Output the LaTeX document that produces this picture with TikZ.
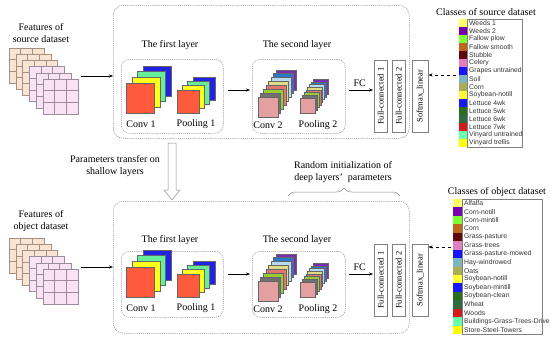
\documentclass[tikz,border=0pt]{standalone}
\usepackage{fontspec}
\setmainfont{Liberation Serif}
\newfontfamily\legfont{Liberation Sans}
\usetikzlibrary{arrows.meta,decorations.pathreplacing,calc}

\definecolor{sqred}{HTML}{FF5A3C}
\definecolor{sqyel}{HTML}{FFFF1A}
\definecolor{sqmint}{HTML}{66EE99}
\definecolor{sqblue}{HTML}{2222E6}
\definecolor{ppurple}{HTML}{7A2FB0}
\definecolor{pblue}{HTML}{2A78C8}
\definecolor{plblue}{HTML}{B4DCEE}
\definecolor{pyel}{HTML}{DCDC88}
\definecolor{psalmon}{HTML}{E07474}
\definecolor{pgreen}{HTML}{99CC33}
\definecolor{pgray}{HTML}{707070}
\definecolor{ppink}{HTML}{E4A0A0}
\definecolor{beige}{HTML}{F8E4D0}
\definecolor{beigeln}{HTML}{A89080}
\definecolor{lpink}{HTML}{F8E2F4}
\definecolor{lpinkln}{HTML}{9C8C9C}

\definecolor{c1}{HTML}{FFFF66}
\definecolor{c2}{HTML}{7B00B0}
\definecolor{c3}{HTML}{80FF33}
\definecolor{c4}{HTML}{C0651E}
\definecolor{c5}{HTML}{5C0A0A}
\definecolor{c6}{HTML}{E080C0}
\definecolor{c7}{HTML}{1414FF}
\definecolor{c8}{HTML}{80B4BC}
\definecolor{c9}{HTML}{ACAC55}
\definecolor{c10}{HTML}{FFFF33}
\definecolor{c11}{HTML}{1818FF}
\definecolor{c12}{HTML}{2D6B1E}
\definecolor{c13}{HTML}{2F6B40}
\definecolor{c14}{HTML}{D41A1A}
\definecolor{c15}{HTML}{66FFAA}
\definecolor{c16}{HTML}{FFFF00}

% stack of squares: x y w h dx dy n {colours back to front}
\newcommand{\sqstack}[8]{%
  \foreach \cc [count=\ii] in {#8}{%
    \pgfmathsetmacro\kk{#7-\ii+1}%
    \filldraw[fill=\cc, draw=black!60, line width=0.3pt]
      ({#1+\kk*#5},{#2-\kk*#6}) rectangle ++(#3,#4);
  }}

% feature grid stack at x y
\newcommand{\featstack}[2]{%
  \foreach \jj in {0,...,5}{%
    \ifnum\jj<3 \def\ff{beige}\def\ll{beigeln}\else\def\ff{lpink}\def\ll{lpinkln}\fi
    \pgfmathsetmacro\xx{#1+\jj*6.8}%
    \pgfmathsetmacro\yy{#2+\jj*6.2}%
    \filldraw[fill=\ff, draw=\ll, line width=0.5pt] (\xx,\yy) rectangle ++(35,35);
    \draw[\ll, line width=0.5pt] ({\xx+35/3},\yy) -- ++(0,35) ({\xx+70/3},\yy) -- ++(0,35)
      (\xx,{\yy+35/3}) -- ++(35,0) (\xx,{\yy+70/3}) -- ++(35,0);
  }}

% network block: suffix, vertical shift, title y, inner box top, inner box height
\newcommand{\netblock}[5]{%
  \begin{scope}[yshift=-#2pt]
    \node[dbox, rounded corners=8pt, minimum width=102pt, minimum height=#5pt, anchor=north west] (inA#1) at (121,#4) {};
    \node[dbox, rounded corners=8pt, minimum width=93pt, minimum height=#5pt, anchor=north west] (inB#1) at (252,#4) {};
    \node[lbl] (tA#1) at (170,#3) {The first layer};
    \node[lbl] (tB#1) at (297,#3) {The second layer};
    \sqstack{126}{83}{28}{30}{5.7}{5.7}{3}{sqblue,sqmint,sqyel,sqred}
    \sqstack{177}{90}{22}{23}{5.3}{4.4}{3}{sqblue,sqmint,sqyel,sqred}
    \sqstack{258}{97}{20}{20}{2.6}{3.9}{7}{ppurple,pblue,plblue,pyel,psalmon,pgreen,pgray,ppink}
    \sqstack{300}{98}{15}{15}{1.9}{2.7}{7}{ppurple,pblue,plblue,pyel,psalmon,pgreen,pgray,ppink}
    \node[lbl] (lA#1) at (141,124) {Conv 1};
    \node[lbl] (lB#1) at (196,124) {Pooling 1};
    \node[lbl] (lC#1) at (268,125) {Conv 2};
    \node[lbl] (lD#1) at (318,125) {Pooling 2};
    \node[fcbox, minimum width=13pt, minimum height=72pt, anchor=north west] (fcA#1) at (374,60) {};
    \node[fcbox, minimum width=13pt, minimum height=72pt, anchor=north west] (fcB#1) at (392,60) {};
    \node[fcbox, minimum width=16pt, minimum height=72pt, anchor=north west] (sm#1) at (412,60) {};
    \node[rot] at (fcA#1) {Full-connected 1};
    \node[rot] at (fcB#1) {Full-connected 2};
    \node[rot] at (sm#1) {Softmax\_linear};
    \coordinate (ay#1) at (0,90);
    \draw[arr, shorten <=4pt, shorten >=2pt] (inA#1.east |- ay#1) -- (inB#1.west |- ay#1);
    \draw[arr, shorten <=3pt, shorten >=1pt] (inB#1.east |- ay#1) -- (fcA#1.west |- ay#1)
      node[lbl, midway, above=3pt] {FC};
  \end{scope}}

\begin{document}
\begin{tikzpicture}[x=1pt,y=-1pt,
  lbl/.style={font=\fontsize{10}{12}\selectfont, inner sep=0},
  rot/.style={font=\fontsize{8.5}{10}\selectfont, inner sep=0, rotate=90},
  dbox/.style={draw=gray!85, dash pattern=on 1.2pt off 0.9pt, line width=0.5pt, rounded corners=10pt, inner sep=0},
  fcbox/.style={draw=gray, line width=0.5pt, inner sep=0},
  arr/.style={-{Stealth[length=4pt,width=3pt]}, line width=0.4pt},
  leg/.style={font=\legfont\fontsize{6.8}{7}\selectfont, text=black!80, inner sep=0, anchor=west},
]
\useasboundingbox (0,0) rectangle (550,341);

% outer boxes
\node[dbox, minimum width=296pt, minimum height=133pt, anchor=north west] (outA) at (113,5) {};
\node[dbox, minimum width=296pt, minimum height=132pt, anchor=north west] (outB) at (113,201) {};

% inputs
\node[lbl, align=center] (fA) at (41,33) {Features of\\source dataset};
\featstack{9}{48}
\coordinate (featA) at (81,76);
\draw[arr] (featA) -- (featA -| outA.west);

\node[lbl, align=center] (fB) at (41,221) {Features of\\object dataset};
\featstack{9}{238}
\coordinate (featB) at (81,267);
\draw[arr] (featB) -- (featB -| outB.west);

% network blocks
\netblock{T}{0}{45}{59}{74}
\netblock{B}{184}{56}{67}{66}

% transfer arrow
\coordinate (ha) at (172,143);
\coordinate (hb) at (172,200);
\draw[gray!90, line width=0.5pt, fill=white]
  ($(ha)+(-4,0)$) -- ($(hb)+(-4,-10)$) -- ($(hb)+(-8,-10)$) -- (hb) -- ($(hb)+(8,-10)$)
  -- ($(hb)+(4,-10)$) -- ($(ha)+(4,0)$) -- cycle;
\node[lbl, align=center] (ptxt) at (115,166) {Parameters transfer on\\shallow layers};

% brace
\coordinate (br1) at (288,196);
\coordinate (br2) at (400,196);
\draw[gray!90, line width=0.5pt, decorate, decoration={brace, amplitude=8pt}] (br1) -- (br2);
\node[lbl, align=center] (rtxt) at (343,172) {Random initialization of\\deep layers’\ \ parameters};

% source legend
\node[font=\fontsize{10}{12}\selectfont, inner sep=0] (lsT) at (486,12) {Classes of source dataset};
\foreach \t [count=\i] in {Weeds 1,Weeds 2,Fallow plow,Fallow smooth,Stubble,Celery,Grapes untrained,Soil,Corn,Soybean-notill,Lettuce 4wk,Lettuce 5wk,Lettuce 6wk,Lettuce 7wk,Vinyard untrained,Vinyard trellis}{
  \fill[c\i] (459,{19+(\i-1)*8}) rectangle ++(8,8);
  \node[leg] (sL\i) at (469,{23+(\i-1)*8}) {\t};
}
\draw[gray, line width=0.5pt] (467,19) rectangle (522,147);

% object legend
\node[font=\fontsize{10}{12}\selectfont, inner sep=0] (loT) at (497,192) {Classes of object dataset};
\foreach \t [count=\i] in {Alfalfa,Corn-notill,Corn-mintill,Corn,Grass-pasture,Grass-trees,Grass-pasture-mowed,Hay-windrowed,Oats,Soybean-notill,Soybean-mintill,Soybean-clean,Wheat,Woods,Buildings-Grass-Trees-Drive,Store-Steel-Towers}{
  \fill[c\i] (453,{199+(\i-1)*8.44}) rectangle ++(9,8.44);
  \node[leg] (oL\i) at (464,{203.2+(\i-1)*8.44}) {\t};
}
\draw[gray, line width=0.5pt] (462,199) rectangle (542,334);

% legend arrows
\coordinate (la) at (456,75);
\draw[arr, dashed] (la) -- (la -| smT.east);
\coordinate (lb) at (451,247);
\draw[arr, dashed] (lb) -- (lb -| smB.east);
\end{tikzpicture}
\end{document}
